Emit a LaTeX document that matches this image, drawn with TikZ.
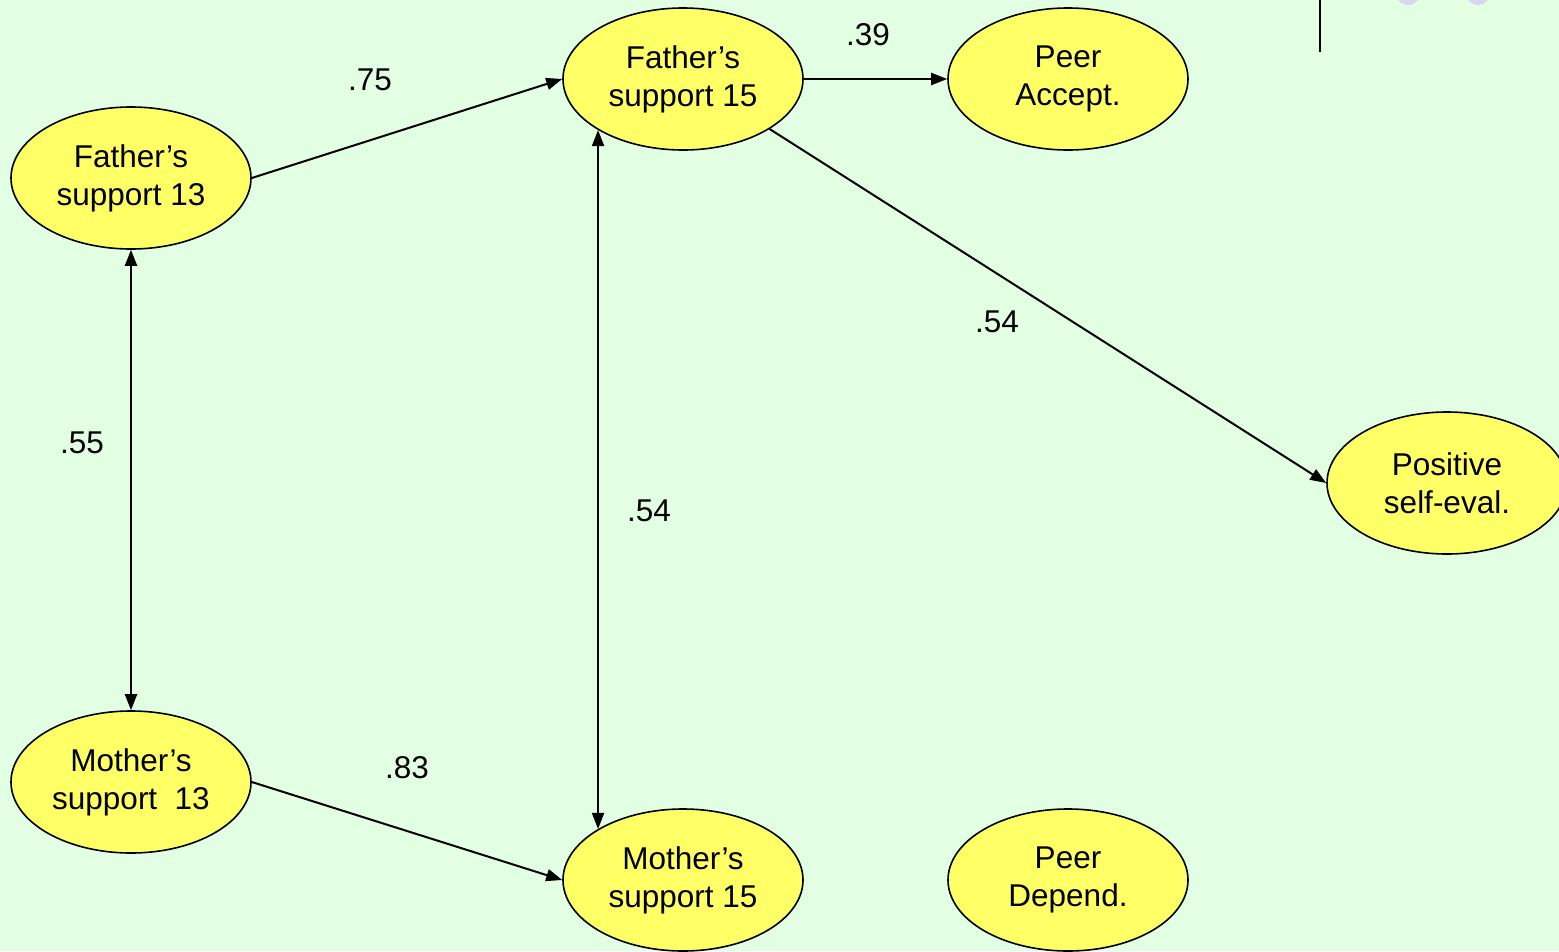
\documentclass[tikz,border=0pt]{standalone}
\usepackage{fontspec}
\setmainfont{Liberation Sans}
\usetikzlibrary{arrows.meta,shapes.geometric}
\definecolor{bg}{HTML}{E3FFE3}
\definecolor{nodefill}{HTML}{FFFF66}
\definecolor{dotc}{HTML}{D6D6EE}
\tikzset{
  var/.style={ellipse, draw=black, line width=1.6pt, fill=nodefill, minimum width=240, minimum height=142, inner sep=0pt, align=center, font=\fontsize{31.5}{38}\selectfont},
  conn/.style={line width=2pt, -{Triangle[length=16,width=12]}},
  biconn/.style={line width=2pt, {Triangle[length=16,width=12]}-{Triangle[length=16,width=12]}},
  coef/.style={font=\fontsize{31.5}{38}\selectfont, inner sep=0pt}
}
\begin{document}
\begin{tikzpicture}[x=1pt,y=-1pt]
\fill[bg] (0,0) rectangle (1559,951);
\useasboundingbox (0,0) rectangle (1559,951);
\fill[dotc] (1408,-7) circle (12);
\fill[dotc] (1478,-7) circle (12);
\draw[line width=2.5pt] (1320,0) -- (1320,52);
\node[var] (F13) at (131,178) {Father’s\\support 13};
\node[var] (F15) at (683,79) {Father’s\\support 15};
\node[var] (PA) at (1068,79) {Peer\\Accept.};
\node[var] (PSE) at (1447,483) {Positive\\self-eval.};
\node[var] (M13) at (131,782) {Mother’s\\support~~13};
\node[var] (M15) at (683,880) {Mother’s\\support 15};
\node[var] (PD) at (1068,880) {Peer\\Depend.};
\draw[conn] (F13.east) -- (F15.west);
\draw[conn] (F15.east) -- (PA.west);
\draw[conn] (F15.-30) -- (PSE.west);
\draw[biconn] (F13.south) -- (M13.north);
\draw[biconn] (F15.-149.5) -- (M15.149.5);
\draw[conn] (M13.east) -- (M15.west);
\node[coef] (l75) at (370,80) {.75};
\node[coef] (l39) at (868,35) {.39};
\node[coef] (l54a) at (997,322) {.54};
\node[coef] (l55) at (82,443) {.55};
\node[coef] (l54b) at (649,511) {.54};
\node[coef] (l83) at (407,768) {.83};
\end{tikzpicture}
\end{document}
